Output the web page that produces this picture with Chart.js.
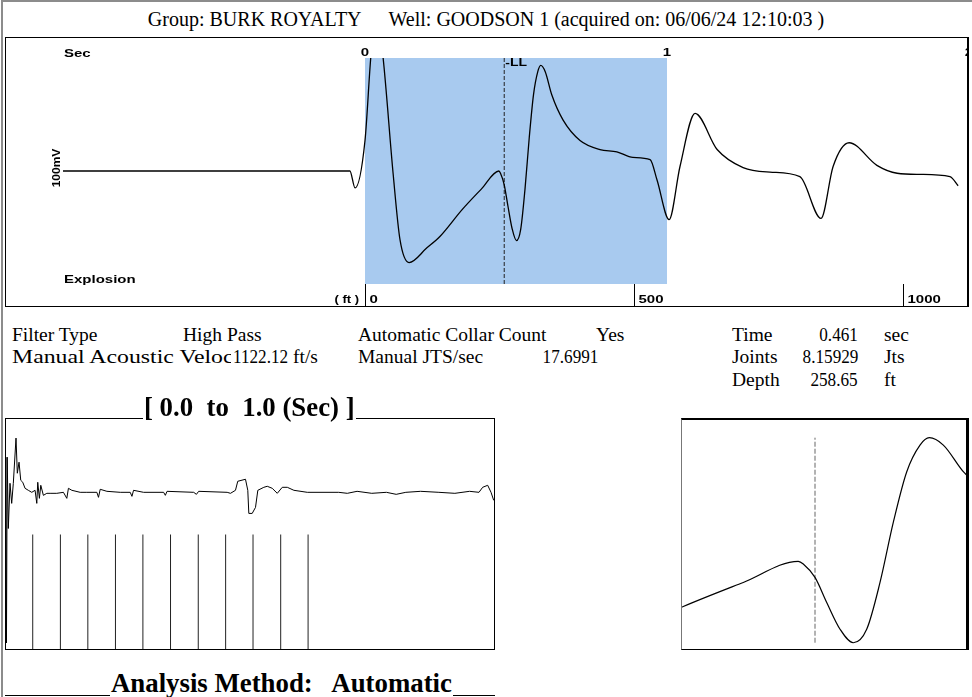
<!DOCTYPE html>
<html>
<head>
<meta charset="utf-8">
<script src="https://cdn.jsdelivr.net/npm/chart.js@4.4.1/dist/chart.umd.min.js"></script>
<style>
body { margin: 0; background: #fff; width: 972px; height: 697px; overflow: hidden; position: relative;
       font-family: "Liberation Serif", "Times New Roman", serif; color: #000; }
canvas { position: absolute; }
.box { position: absolute; box-sizing: border-box; pointer-events: none; }
.t { position: absolute; font-size: 19.5px; line-height: 22px; white-space: nowrap; }
.r { text-align: right; }
.num { display: inline-block; transform: scaleX(0.88); }
.r .num { transform-origin: right center; }
.l .num { transform-origin: left center; }
.big { position: absolute; font-weight: bold; font-size: 26.8px; line-height: 28px; white-space: nowrap; background: #fff; padding: 0 1px; }
</style>
</head>
<body>
<div class="box" style="left:1px;top:0;width:975px;height:700px;border-top:2px solid #8c8c8c;border-left:2px solid #8c8c8c;"></div>

<div class="t" style="left:0;width:972px;top:8px;text-align:center;font-size:20px;">Group: BURK ROYALTY<span style="margin-left:27px;">Well: GOODSON 1 (acquired on: 06/06/24 12:10:03 )</span></div>

<canvas id="topChart" width="972" height="270" style="left:0;top:37px;"></canvas>
<div class="box" style="left:5px;top:37px;width:964px;height:270px;border:1px solid #000;border-right:2px solid #000;"></div>

<div class="t" style="left:12px;top:324px;">Filter Type</div>
<div class="t" style="left:183px;top:324px;">High Pass</div>
<div class="t" style="left:358px;top:324px;">Automatic Collar Count</div>
<div class="t" style="left:596px;top:324px;">Yes</div>
<div class="t" style="left:732px;top:324px;">Time</div>
<div class="t r" style="left:780px;width:78px;top:324px;"><span class="num">0.461</span></div>
<div class="t" style="left:884px;top:324px;">sec</div>

<div class="t" style="left:12px;top:346px;width:219px;overflow:hidden;"><span style="display:inline-block;transform:scaleX(1.22);transform-origin:left center;">Manual Acoustic Velocity</span></div>
<div class="t l" style="left:233px;top:346px;"><span class="num">1122.12</span></div>
<div class="t" style="left:293px;top:346px;">ft/s</div>
<div class="t" style="left:358px;top:346px;">Manual JTS/sec</div>
<div class="t r" style="left:520px;width:78px;top:346px;"><span class="num">17.6991</span></div>
<div class="t" style="left:732px;top:346px;">Joints</div>
<div class="t r" style="left:780px;width:78px;top:346px;"><span class="num">8.15929</span></div>
<div class="t" style="left:884px;top:346px;">Jts</div>

<div class="t" style="left:732px;top:369px;">Depth</div>
<div class="t r" style="left:780px;width:78px;top:369px;"><span class="num">258.65</span></div>
<div class="t" style="left:884px;top:369px;">ft</div>

<canvas id="fullChart" width="489" height="232" style="left:5px;top:418px;"></canvas>
<div class="box" style="left:5px;top:418px;width:490px;height:232px;border:1px solid #000;"></div>
<div class="big" style="left:143px;top:393px;">[ 0.0&nbsp; to&nbsp; 1.0 (Sec) ]</div>

<canvas id="zoomChart" width="287" height="232" style="left:681px;top:418px;"></canvas>
<div class="box" style="left:681px;top:418px;width:288px;height:232px;border:1px solid #000;border-left-color:#777;border-top-width:2px;border-right-width:3px;"></div>

<div class="box" style="left:5px;top:695px;width:490px;height:2px;border-top:1px solid #000;"></div>
<div class="big" style="left:110px;top:669px;">Analysis Method:&nbsp;&nbsp; Automatic</div>

<script>
const waveTime = [-1.0, -0.05, -0.033, 0.0, 0.019, 0.037, 0.060, 0.093, 0.116, 0.146,
    0.205, 0.248, 0.3216, 0.3851, 0.4433, 0.4486, 0.461, 0.4734, 0.4875, 0.5015,
    0.5157, 0.5298, 0.5439, 0.5580, 0.5721, 0.5820, 0.5968, 0.6187, 0.656, 0.712,
    0.778, 0.834, 0.887, 0.944, 0.967, 1.007, 1.043, 1.093, 1.166, 1.252,
    1.341, 1.440, 1.510, 1.550, 1.603, 1.695, 1.762, 1.838, 1.937, 1.964];
const waveAmp = [0, 0, -0.15, 0.27, 1.0, 1.45, 1.0, -0.02, -0.61, -0.81,
    -0.68, -0.58, -0.342, -0.160, 0.0, -0.02, -0.122, -0.312, -0.514, -0.616,
    -0.514, -0.160, 0.296, 0.676, 0.879, 0.935, 0.879, 0.672, 0.45, 0.27,
    0.19, 0.17, 0.12, 0.10, -0.08, -0.43, 0.04, 0.51, 0.19, 0.03,
    -0.01, -0.05, -0.42, 0.04, 0.25, 0.05, -0.02, -0.03, -0.05, -0.13];

// filtered trace shown in the 0.0 - 1.0 sec panel
const filtTime = [0.0018, 0.0030, 0.0045, 0.0068, 0.0102, 0.0137, 0.0170, 0.0225, 0.0252, 0.0287,
    0.0322, 0.0363, 0.0410, 0.0477, 0.0547, 0.0615, 0.0650, 0.0670, 0.0703, 0.0732,
    0.0785, 0.0855, 0.0922, 0.1059, 0.1195, 0.1264, 0.1297, 0.1367, 0.1537, 0.1674,
    0.1879, 0.1912, 0.1947, 0.2084, 0.2357, 0.2561, 0.2596, 0.2629, 0.2834, 0.3244,
    0.3279, 0.3314, 0.3859, 0.3914, 0.3961, 0.4543, 0.4611, 0.4713, 0.4760, 0.4918,
    0.4965, 0.4986, 0.5055, 0.5123, 0.5170, 0.5293, 0.5363, 0.5465, 0.5568, 0.5670,
    0.5773, 0.5908, 0.6182, 0.6824, 0.70, 0.72, 0.75, 0.78, 0.80, 0.8197,
    0.85, 0.8873, 0.92, 0.95, 0.9693, 0.9768, 0.9871, 0.9939, 0.9994];
const filtAmp = [3.4, -15.1, 3.4, -3.7, 0.8, -1.2, 0.8, 5.3, 1.8, 2.9,
    1.1, 0.9, 0.3, 0.1, -0.1, 0.1, -1.2, 0.9, -0.7, 0.6,
    -0.4, -0.2, -0.2, -0.2, -0.1, -0.7, 0.3, 0.1, -0.1, -0.1,
    -0.1, -0.6, 0.2, 0.0, -0.1, -0.1, -0.5, 0.1, -0.1, -0.1,
    -0.4, 0.0, -0.1, -0.3, 0.0, -0.1, -0.2, 0.1, 1.0, 1.2,
    0.1, -2.2, -2.2, -1.6, 0.1, 0.4, 0.5, 0.3, -0.2, 0.4,
    0.4, 0.1, -0.1, -0.1, -0.2, 0.0, -0.2, -0.1, -0.3, -0.1,
    0.0, -0.1, -0.2, 0.0, -0.1, 0.4, 0.6, -0.1, -0.9];

// collar (joint) markers
const jointTimes = [0.0567, 0.1133, 0.1694, 0.2259, 0.2820, 0.3385, 0.3952, 0.4512, 0.5072, 0.5638, 0.6198];
const jointRange = [-15.8, -4.3];

const llTime = 0.461;          // selected liquid level time
const secTicks = [0, 1, 2];
const ftTicks = [0, 500, 1000];
const ftRange = [-561.06, 1122.12];
const analysisWindow = [0, 1];
const zoomWindow = [0.3192, 0.6229];
const zoomAmpRange = [-0.671, 1.084];
const zoomDashRange = [-0.616, 0.935];

const wavePts = waveTime.map((t, i) => ({ x: t, y: waveAmp[i] }));
const filtPts = filtTime.map((t, i) => ({ x: t, y: filtAmp[i] }));
let jointPts = [];
jointTimes.forEach((t) => {
    jointPts.push({ x: t, y: jointRange[0] }, { x: t, y: jointRange[1] }, { x: t, y: null });
});

Chart.defaults.animation = false;
Chart.defaults.responsive = false;
Chart.defaults.devicePixelRatio = 1;
Chart.defaults.plugins.legend.display = false;
Chart.defaults.plugins.tooltip.enabled = false;

function wideText(ctx, text, x, y, align, sx) {
    ctx.save();
    ctx.translate(x, y);
    ctx.scale(sx, 1);
    ctx.textAlign = align;
    ctx.textBaseline = 'middle';
    ctx.fillText(text, 0, 0);
    ctx.restore();
}

// labels around the top panel
const topLabels = {
    id: 'topLabels',
    afterDraw(chart) {
        const ctx = chart.ctx;
        const xs = chart.scales.x;
        const fs = chart.scales.ft;
        const area = chart.chartArea;
        ctx.save();
        ctx.fillStyle = '#000';
        ctx.font = 'bold 10px "Liberation Sans", Arial, sans-serif';
        wideText(ctx, 'Sec', 64, 17, 'left', 1.5);
        wideText(ctx, 'Explosion', 64, 243, 'left', 1.5);
        wideText(ctx, '-LL', xs.getPixelForValue(llTime) + 1, 26, 'left', 1.4);

        // ft scale
        ctx.strokeStyle = '#000';
        ctx.lineWidth = 1;
        ftTicks.forEach((v) => {
            const px = Math.round(fs.getPixelForValue(v)) + 0.5;
            ctx.beginPath();
            ctx.moveTo(px, area.bottom);
            ctx.lineTo(px, chart.height);
            ctx.stroke();
            wideText(ctx, String(v), px + 4, 263, 'left', 1.5);
        });
        wideText(ctx, '( ft )', fs.getPixelForValue(0) - 6, 263, 'right', 1.3);

        ctx.save();
        ctx.beginPath();
        ctx.rect(0, 0, 968, chart.height);
        ctx.clip();
        secTicks.forEach((v) => wideText(ctx, String(v), xs.getPixelForValue(v), 16, 'center', 1.5));
        ctx.restore();

        ctx.translate(57, 131);
        ctx.rotate(-Math.PI / 2);
        ctx.font = 'bold 10px "Liberation Sans", Arial, sans-serif';
        wideText(ctx, '100mV', 0, 0, 'center', 1.2);
        ctx.restore();
    }
};

new Chart(document.getElementById('topChart'), {
    type: 'line',
    data: {
        datasets: [{
            data: wavePts,
            xAxisID: 'x',
            borderColor: '#000',
            borderWidth: 1.3,
            pointRadius: 0,
            cubicInterpolationMode: 'monotone',
            fill: false
        }, {
            data: [{ x: llTime, y: -1 }, { x: llTime, y: 1 }],
            xAxisID: 'x',
            borderColor: '#222',
            borderWidth: 1,
            borderDash: [4, 2],
            pointRadius: 0,
            fill: false
        }, {
            data: [{ x: analysisWindow[0], y: 1 }, { x: analysisWindow[1], y: 1 }],
            xAxisID: 'x',
            borderWidth: 0,
            borderColor: 'rgba(0,0,0,0)',
            backgroundColor: '#a8caef',
            pointRadius: 0,
            fill: 'start'
        }]
    },
    options: {
        layout: { padding: { left: 63, right: 3, top: 21, bottom: 23 } },
        scales: {
            x: { type: 'linear', min: -1, max: 2, display: false },
            ft: { type: 'linear', axis: 'x', min: ftRange[0], max: ftRange[1], display: false },
            y: { type: 'linear', min: -1, max: 1, display: false }
        }
    },
    plugins: [topLabels]
});

new Chart(document.getElementById('fullChart'), {
    type: 'line',
    data: {
        datasets: [{
            data: filtPts,
            borderColor: '#000',
            borderWidth: 1,
            pointRadius: 0,
            tension: 0
        }, {
            data: jointPts,
            borderColor: '#222',
            borderWidth: 1,
            pointRadius: 0,
            spanGaps: false
        }]
    },
    options: {
        layout: { padding: 0 },
        scales: {
            x: { type: 'linear', min: analysisWindow[0], max: analysisWindow[1], display: false },
            y: { type: 'linear', min: -15.8, max: 7.3, display: false }
        }
    }
});

new Chart(document.getElementById('zoomChart'), {
    type: 'line',
    data: {
        datasets: [{
            data: wavePts,
            borderColor: '#000',
            borderWidth: 1.2,
            pointRadius: 0,
            cubicInterpolationMode: 'monotone'
        }, {
            data: [{ x: llTime, y: zoomDashRange[0] }, { x: llTime, y: zoomDashRange[1] }],
            borderColor: '#666',
            borderWidth: 1,
            borderDash: [5, 2],
            pointRadius: 0
        }]
    },
    options: {
        layout: { padding: 0 },
        scales: {
            x: { type: 'linear', min: zoomWindow[0], max: zoomWindow[1], display: false },
            y: { type: 'linear', min: zoomAmpRange[0], max: zoomAmpRange[1], display: false }
        }
    }
});
</script>
</body>
</html>
